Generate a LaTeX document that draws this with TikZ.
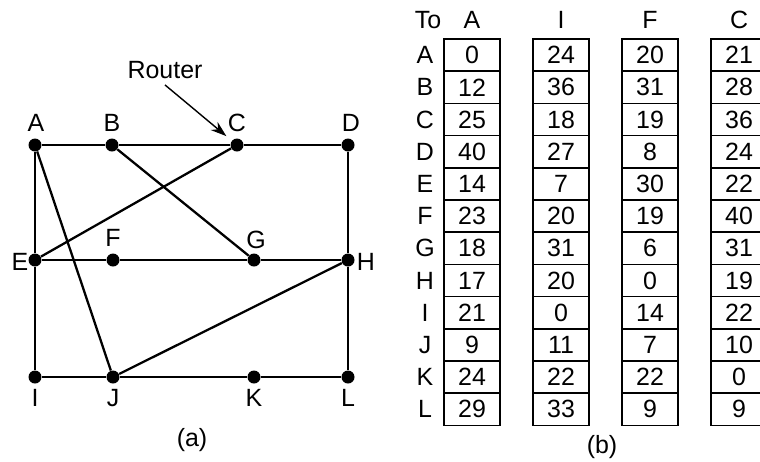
\documentclass[tikz,border=0pt]{standalone}
\usepackage{fontspec}
\setmainfont{Liberation Sans}
\usetikzlibrary{arrows.meta}

\begin{document}
\begin{tikzpicture}[x=0.02cm,y=-0.02cm,
    font=\fontsize{14.2}{16}\selectfont,
    router/.style={circle,fill,inner sep=0pt,minimum size=0.26cm},
    link/.style={line width=1.3pt},
    cell/.style={draw,line width=0.9pt,minimum width=1.12cm,minimum height=0.644cm,inner sep=0pt}]
  \useasboundingbox (0,0) rectangle (760,461);
  \clip (0,0) rectangle (760,461);
  % (a) the subnet
  \foreach \n/\x/\y in {A/35/145,B/112/145,C/237/145,D/348/145,
                        E/35/260,F/113/260,G/254/260,H/348/260,
                        I/35/377,J/113/377,K/254/377,L/348/377}
    \node[router] (\n) at (\x,\y) {};
  \foreach \n/\x/\y in {A/36/123,B/112/123,C/237/123,D/351/123,
                        E/20/262,F/113/238,G/256/240,H/366/262,
                        I/35/398,J/113/398,K/254/398,L/348/398}
    \node (l\n) at (\x,\y) {\n};
  \draw[link] (A) -- (B) -- (C) -- (D) -- (H) -- (L) -- (K) -- (J) -- (I) -- (E) -- (A);
  \draw[link] (E) -- (F) -- (G) -- (H);
  \draw[link] (A) -- (J);
  \draw[link] (B) -- (G);
  \draw[link] (C) -- (E);
  \draw[link] (J) -- (H);
  \node (router) at (165,70) {Router};
  \draw[line width=0.8pt,-{Stealth[length=9pt,width=6pt]},shorten >=4pt]
    (router.south) -- (C);
  \node (capa) at (192,440) {(a)};
  % (b) delay vectors
  \node (to) at (428,20) {To};
  \foreach \lab [count=\r] in {A,B,C,D,E,F,G,H,I,J,K,L}
    \node (row\lab) at (425,{39+32.2*(\r-0.5)}) {\lab};
  \foreach \col/\cx/\vals in {A/472/{0,12,25,40,14,23,18,17,21,9,24,29},
                              I/561/{24,36,18,27,7,20,31,20,0,11,22,33},
                              F/650/{20,31,19,8,30,19,6,0,14,7,22,9},
                              C/739/{21,28,36,24,22,40,31,19,22,10,0,9}} {
    \node (head\col) at (\cx,20) {\col};
    \foreach \v [count=\r] in \vals
      \node[cell] (\col-\r) at (\cx,{39+32.2*(\r-0.5)}) {\v};
  }
  \node (capb) at (602,447) {(b)};
\end{tikzpicture}
\end{document}
